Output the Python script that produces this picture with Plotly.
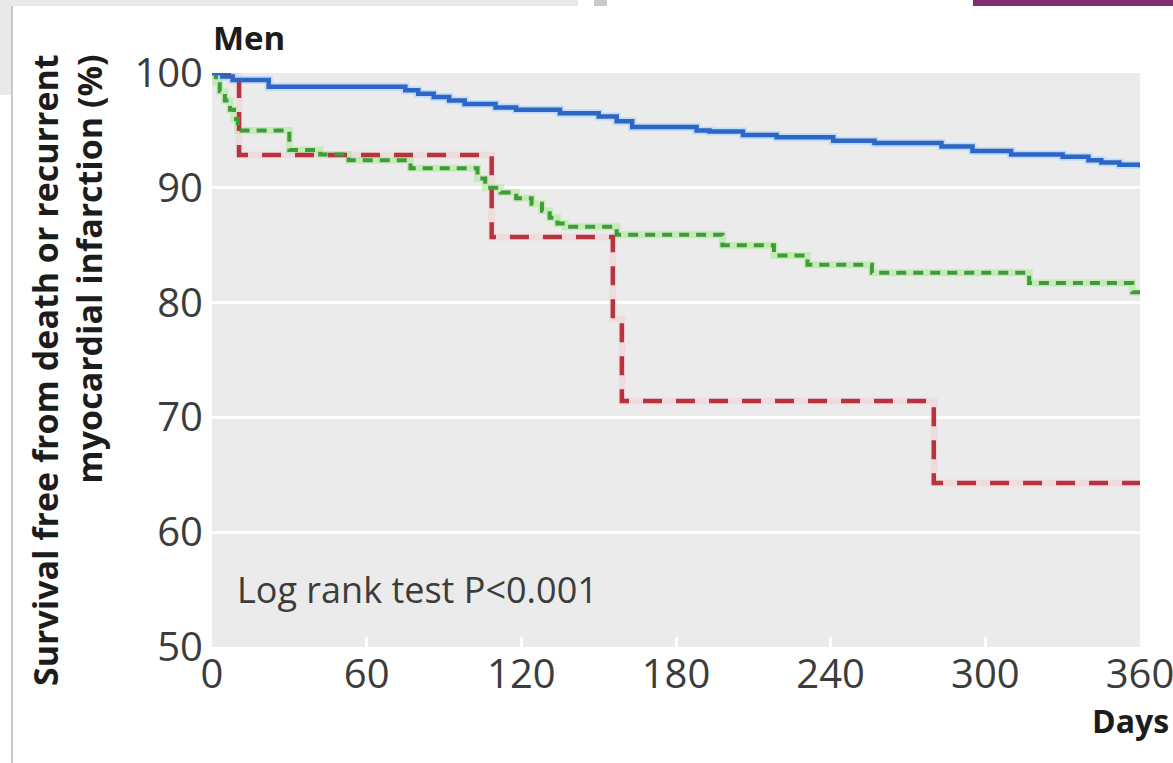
import plotly.graph_objects as go

# ---------------- data ----------------
days_ticks = [0, 60, 120, 180, 240, 300, 360]
surv_ticks = [50, 60, 70, 80, 90, 100]

blue_days = [0, 4, 8, 22, 75, 80, 86, 92, 98, 110, 118, 135, 150, 157, 163,
             188, 193, 206, 219, 241, 257, 283, 295, 310, 330, 340, 345, 352, 360]
blue_surv = [100, 99.7, 99.4, 98.8, 98.5, 98.2, 97.9, 97.6, 97.3, 97.0, 96.8, 96.5, 96.2, 95.8, 95.3,
             95.0, 94.9, 94.6, 94.4, 94.1, 93.9, 93.6, 93.2, 92.9, 92.7, 92.4, 92.2, 92.0, 91.8]

green_days = [0, 1.5, 3, 5, 7, 8.5, 10, 30, 42, 53, 77, 103, 106, 112, 118, 124, 128,
              131, 134, 137, 157, 198, 218, 231, 256, 317, 357, 360]
green_surv = [100, 99.2, 98.4, 97.6, 96.8, 96.0, 95.0, 93.3, 92.9, 92.4, 91.7, 90.8, 90.0, 89.6,
              89.1, 88.6, 88.0, 87.4, 86.9, 86.6, 85.9, 85.0, 84.1, 83.3, 82.6, 81.7, 80.9, 80.9]

red_days = [0, 10.5, 108.5, 155.5, 159, 280, 360]
red_surv = [100, 92.86, 85.71, 78.57, 71.43, 64.29, 64.29]

# ---------------- layout constants ----------------
FIG_W, FIG_H = 1173, 763
L, R, T, B = 212, 1140, 73, 647
PW, PH = R - L, B - T

def px_x(px):
    return (px - L) / PW

def px_y(py):
    return (B - py) / PH

FONT = "Open Sans"

fig = go.Figure()

# soft halos (jpeg-like glow round the lines)
fig.add_trace(go.Scatter(x=red_days, y=red_surv, mode="lines", line_shape="hv",
                         line=dict(color="rgba(240,195,200,0.35)", width=7),
                         hoverinfo="skip", showlegend=False, cliponaxis=False))
fig.add_trace(go.Scatter(x=green_days, y=green_surv, mode="lines", line_shape="hv",
                         line=dict(color="rgba(170,235,150,0.6)", width=7),
                         hoverinfo="skip", showlegend=False, cliponaxis=False))
fig.add_trace(go.Scatter(x=blue_days, y=blue_surv, mode="lines", line_shape="hv",
                         line=dict(color="rgba(160,210,255,0.6)", width=8),
                         hoverinfo="skip", showlegend=False, cliponaxis=False))

# main lines
fig.add_trace(go.Scatter(x=red_days, y=red_surv, mode="lines", line_shape="hv",
                         line=dict(color="#b8333e", width=4.5, dash="19px,14px"),
                         showlegend=False, cliponaxis=False))
fig.add_trace(go.Scatter(x=green_days, y=green_surv, mode="lines", line_shape="hv",
                         line=dict(color="#3f9a3a", width=4, dash="10px,7px"),
                         showlegend=False, cliponaxis=False))
fig.add_trace(go.Scatter(x=blue_days, y=blue_surv, mode="lines", line_shape="hv",
                         line=dict(color="#2e66c6", width=4.5),
                         showlegend=False, cliponaxis=False))

annotations = [
    dict(text="Log rank test P&lt;0.001", x=9.0, y=55.0, xref="x", yref="y",
         xanchor="left", yanchor="middle", showarrow=False,
         font=dict(family=FONT, size=36, color="#3c3c3c")),
    dict(text="Men", x=px_x(211), y=px_y(38), xref="paper", yref="paper",
         xanchor="left", yanchor="middle", showarrow=False,
         font=dict(family=FONT, size=33, color="#1c1c1c", weight=700)),
    dict(text="Days", x=px_x(1171), y=px_y(720), xref="paper", yref="paper",
         xanchor="right", yanchor="middle", showarrow=False,
         font=dict(family=FONT, size=32, color="#1c1c1c", weight=700)),
    dict(text="Survival free from death or recurrent<br>myocardial infarction (%)",
         x=px_x(67), y=px_y(370), xref="paper", yref="paper",
         xanchor="center", yanchor="middle", showarrow=False, textangle=-90,
         align="right",
         font=dict(family=FONT, size=34, color="#1c1c1c", weight=700)),
]

def rect(x0, y0, x1, y1, color):
    return dict(type="rect", xref="paper", yref="paper",
                x0=px_x(x0), x1=px_x(x1), y0=px_y(y0), y1=px_y(y1),
                fillcolor=color, line=dict(width=0), layer="above")

shapes = [
    rect(0, 0, 578, 6, "#e8e8e8"),
    rect(594, 0, 607, 6, "#c9c9c9"),
    rect(973, 0, 1173, 6, "#7e2d6f"),
    rect(0, 6, 11, 95, "#e9e9e9"),
    dict(type="line", xref="paper", yref="paper",
         x0=px_x(12), x1=px_x(12), y0=px_y(6), y1=px_y(763),
         line=dict(color="#c8c8c8", width=2), layer="above"),
]

fig.update_layout(
    width=FIG_W, height=FIG_H, autosize=False,
    margin=dict(l=L, r=FIG_W - R, t=T, b=FIG_H - B, pad=0),
    paper_bgcolor="white", plot_bgcolor="#ebebeb",
    showlegend=False,
    annotations=annotations, shapes=shapes,
    xaxis=dict(range=[0, 360], tickvals=days_ticks, ticktext=[str(v) for v in days_ticks],
               showgrid=False, zeroline=False, showline=False, automargin=False,
               ticks="inside", ticklen=10, tickwidth=3, tickcolor="white",
               ticklabelstandoff=0, ticklabeloverflow="allow",
               tickfont=dict(family=FONT, size=40, color="#3c3c3c")),
    yaxis=dict(range=[50, 100], tickvals=surv_ticks, ticktext=[str(v) for v in surv_ticks],
               showgrid=True, gridcolor="white", gridwidth=3, automargin=False,
               zeroline=False, showline=False, ticks="",
               ticklabelstandoff=8, ticklabeloverflow="allow",
               tickfont=dict(family=FONT, size=40, color="#3c3c3c")),
)

fig.write_html("out.html", config={"displayModeBar": False},
               post_script="document.body.style.margin='0';document.body.style.overflow='hidden';")
